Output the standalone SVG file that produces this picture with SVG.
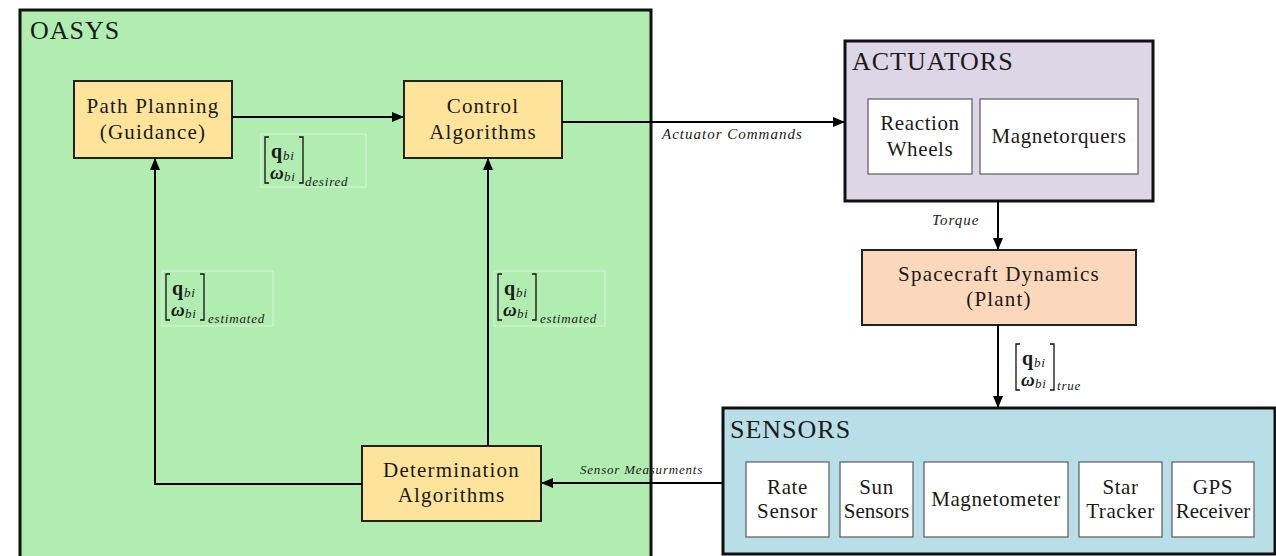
<svg xmlns="http://www.w3.org/2000/svg" width="1276" height="556" viewBox="0 0 1276 556" font-family="'Liberation Serif','DejaVu Serif',serif">
<defs>
<style>
text{font-family:"Liberation Serif","DejaVu Serif",serif;fill:#1a1a1a}
.nt{font-size:21px;text-anchor:middle;letter-spacing:0.6px}
.big{letter-spacing:1.2px}
.title{font-size:26px;letter-spacing:1px}
.lbl{font-size:15px;font-style:italic;letter-spacing:1px}
.node{fill:#fee39b;stroke:#222;stroke-width:2}
.sub{fill:#fff;stroke:#666;stroke-width:1.3}
.edge{fill:none;stroke:#000;stroke-width:2}
.br{fill:none;stroke:#111;stroke-width:1.3}
.q{font-size:20px;font-weight:bold}
.w{font-size:19px;font-weight:bold;font-style:italic}
.s{font-size:13px;font-style:italic;letter-spacing:0.8px}
.fb{fill:none;stroke:#fff;stroke-opacity:0.5;stroke-width:1}
</style>
<marker id="ah" markerWidth="12" markerHeight="10" refX="11" refY="5" orient="auto" markerUnits="userSpaceOnUse">
<path d="M0,0 L12,5 L0,10 Z" fill="#000"/>
</marker>
<g id="mat">
<path class="br" d="M4,0 H0 V46 H4"/>
<path class="br" d="M34,0 H38 V46 H34"/>
<text class="q" x="6" y="21">q</text>
<text class="s" x="18" y="23">bi</text>
<text class="w" x="5" y="42">ω</text>
<text class="s" x="19" y="44">bi</text>
</g>
</defs>
<rect width="1276" height="556" fill="#fff"/>

<g id="oasys">
<rect x="20" y="10" width="631" height="556" fill="#b1edb1" stroke="#111" stroke-width="3"/>
<text class="title" x="30" y="39">OASYS</text>
</g>

<g id="actuators">
<rect x="845" y="41" width="308" height="160" fill="#ddd6e6" stroke="#111" stroke-width="3"/>
<text class="title" x="852" y="70">ACTUATORS</text>
<rect class="sub" x="868" y="99" width="104" height="75"/>
<text class="nt" x="920" y="130">Reaction</text>
<text class="nt" x="920" y="156">Wheels</text>
<rect class="sub" x="980" y="99" width="158" height="75"/>
<text class="nt" x="1059" y="143">Magnetorquers</text>
</g>

<g id="sensors">
<rect x="723" y="408" width="552" height="146" fill="#b8dfe8" stroke="#111" stroke-width="3"/>
<text class="title" x="730" y="438">SENSORS</text>
<rect class="sub" x="746" y="462" width="83" height="75"/>
<text class="nt" x="787.5" y="494">Rate</text>
<text class="nt" x="787.5" y="518">Sensor</text>
<rect class="sub" x="840" y="462" width="73" height="75"/>
<text class="nt" x="876.5" y="494">Sun</text>
<text class="nt" x="876.5" y="518" style="letter-spacing:0">Sensors</text>
<rect class="sub" x="924" y="462" width="144" height="75"/>
<text class="nt" x="996" y="506">Magnetometer</text>
<rect class="sub" x="1079" y="462" width="83" height="75"/>
<text class="nt" x="1120.5" y="494">Star</text>
<text class="nt" x="1120.5" y="518">Tracker</text>
<rect class="sub" x="1172" y="462" width="82" height="75"/>
<text class="nt" x="1213" y="494">GPS</text>
<text class="nt" x="1213" y="518" style="letter-spacing:0">Receiver</text>
</g>

<g id="path-planning">
<rect class="node" x="74" y="81" width="158" height="77"/>
<text class="nt big" x="153" y="113">Path Planning</text>
<text class="nt big" x="153" y="139">(Guidance)</text>
</g>

<g id="control">
<rect class="node" x="404" y="81" width="158" height="77"/>
<text class="nt big" x="483" y="113">Control</text>
<text class="nt big" x="483" y="139">Algorithms</text>
</g>

<g id="determination">
<rect class="node" x="362" y="446" width="179" height="75"/>
<text class="nt big" x="451.5" y="477">Determination</text>
<text class="nt big" x="451.5" y="502">Algorithms</text>
</g>

<g id="dynamics">
<rect x="862" y="250" width="274" height="75" fill="#fbd8bb" stroke="#222" stroke-width="2"/>
<text class="nt big" x="999" y="281">Spacecraft Dynamics</text>
<text class="nt big" x="999" y="306">(Plant)</text>
</g>

<g id="connectors">
<path class="edge" d="M232,117 H403" marker-end="url(#ah)"/>
<path class="edge" d="M562,122 H844" marker-end="url(#ah)"/>
<path class="edge" d="M998,201 V249" marker-end="url(#ah)"/>
<path class="edge" d="M998,325 V407" marker-end="url(#ah)"/>
<path class="edge" d="M723,483 H542" marker-end="url(#ah)"/>
<path class="edge" d="M362,484 H155 V159" marker-end="url(#ah)"/>
<path class="edge" d="M488,446 V159" marker-end="url(#ah)"/>

<text class="lbl" x="662" y="139">Actuator Commands</text>
<text class="lbl" x="932" y="225">Torque</text>
<text class="lbl" x="580" y="474" style="font-size:13px;letter-spacing:0.8px">Sensor Measurments</text>

<rect class="fb" x="261" y="134" width="105" height="53"/>
<use href="#mat" x="265" y="137"/>
<text class="s" x="305" y="186">desired</text>

<rect class="fb" x="162" y="271" width="111" height="55"/>
<use href="#mat" x="166" y="274"/>
<text class="s" x="208" y="323">estimated</text>

<rect class="fb" x="494" y="271" width="111" height="55"/>
<use href="#mat" x="498" y="274"/>
<text class="s" x="540" y="323">estimated</text>

<use href="#mat" x="1016" y="344"/>
<text class="s" x="1057" y="390">true</text>
</g>
</svg>
